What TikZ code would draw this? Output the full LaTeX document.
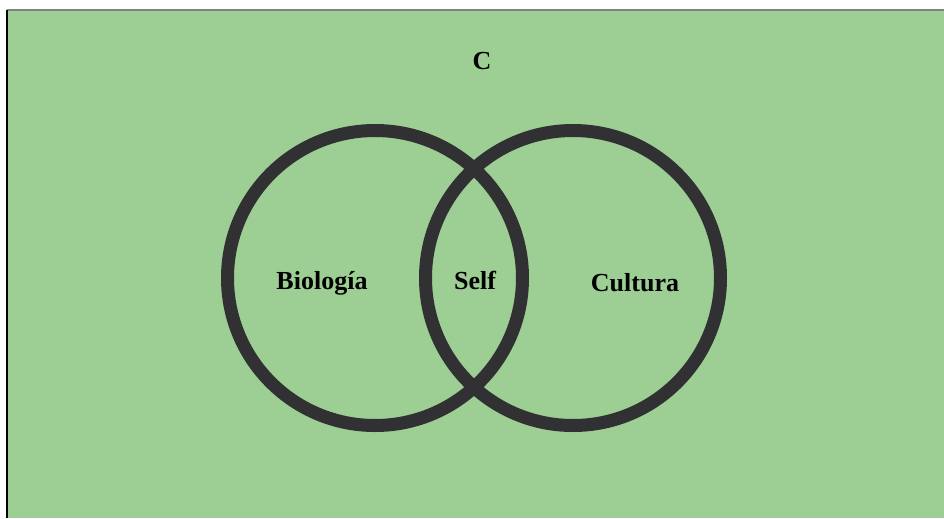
\documentclass[tikz,border=0pt]{standalone}
\usepackage{fontspec}
\setmainfont{Liberation Serif}
\definecolor{hintergrund}{RGB}{157,206,147}
\definecolor{kreis}{RGB}{49,49,52}
\tikzset{
	kreislinie/.style={draw=kreis, line width=7.4pt},
	beschriftung/.style={font=\fontsize{14.8pt}{16pt}\selectfont\bfseries}
}
\begin{document}
\begin{tikzpicture}[x=0.02cm, y=-0.02cm]
	% Rahmen
	\useasboundingbox (0, 0) rectangle (944, 518);
	\fill[hintergrund] (7, 10) rectangle (944, 518);
	\draw[gray, line width=0.8pt] (7, 10) -- (944, 10);
	\draw[black, line width=0.8pt] (7, 10) -- (7, 518);
	% Kreise
	\draw[kreislinie] (375, 278) circle (147.5);
	\draw[kreislinie] (573, 278) circle (147.5);
	% Beschriftungen
	\node[beschriftung] (titel) at (482, 61) {C};
	\node[beschriftung] (biologia) at (322, 283) {Biología};
	\node[beschriftung] (self) at (475, 280) {Self};
	\node[beschriftung] (cultura) at (635, 283) {Cultura};
\end{tikzpicture}
\end{document}
